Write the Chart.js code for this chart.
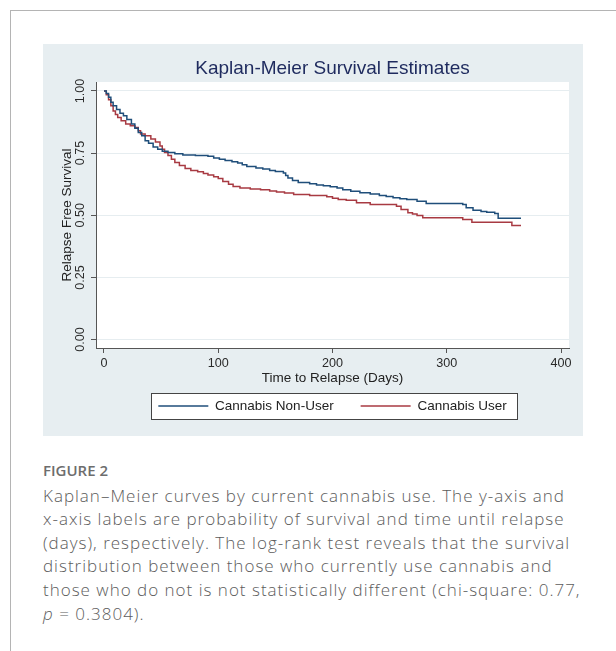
<!DOCTYPE html>
<html>
<head>
<meta charset="utf-8">
<script src="https://cdn.jsdelivr.net/npm/chart.js@4.4.0/dist/chart.umd.min.js"></script>
<style>
  html, body { margin: 0; padding: 0; background: #fff; }
  body { width: 616px; height: 651px; position: relative; overflow: hidden; }
  .frame { position: absolute; left: 10px; top: 10px; right: 0; bottom: 0; border-top: 1px solid #b4b4b4; border-left: 1px solid #b4b4b4; }
  .plot { position: absolute; left: 43px; top: 44px; width: 540px; height: 392px; background: #e7eef1; }
  .fig-label { position: absolute; left: 43px; top: 460.5px; font: 600 15px/18px "Open Sans", sans-serif; color: #6d6d6d; }
  .caption { position: absolute; left: 43px; top: 483.7px; width: 570px; font: 300 17px/23.6px "Open Sans", sans-serif; letter-spacing: 1px; color: #5c5c5c; white-space: nowrap; }
</style>
</head>
<body>
<div class="frame"></div>
<div class="plot"><canvas id="kmChart" width="540" height="392"></canvas></div>
<div class="fig-label">FIGURE 2</div>
<div class="caption">Kaplan–Meier curves by current cannabis use. The y-axis and<br>x-axis labels are probability of survival and time until relapse<br>(days), respectively. The log-rank test reveals that the survival<br>distribution between those who currently use cannabis and<br>those who do not is not statistically different (chi-square: 0.77,<br><i>p</i> = 0.3804).</div>
<script>
const xTicks = [0, 100, 200, 300, 400];
const yTicks = [0, 0.25, 0.5, 0.75, 1];

// Kaplan-Meier steps (day, survival after the drop)
const nonUserDays = [0, 2, 4, 6, 8, 11, 14, 17, 20, 24, 27, 30, 33, 36, 39, 43, 47, 51, 56, 62,
    69, 80, 91, 96, 101, 106, 112, 117, 121, 125, 133, 139, 145, 150, 157, 159, 161, 165, 170, 180,
    186, 192, 198, 204, 209, 216, 224, 233, 241, 247, 253, 259, 265, 274, 282, 314, 317, 323, 330, 335,
    342, 345, 365];
const nonUserSurv = [1.0, 0.99, 0.975, 0.955, 0.94, 0.925, 0.91, 0.9, 0.885, 0.867, 0.85, 0.833, 0.82, 0.80, 0.79, 0.775, 0.765, 0.757, 0.752, 0.747,
    0.742, 0.74, 0.737, 0.73, 0.725, 0.72, 0.715, 0.71, 0.703, 0.696, 0.69, 0.686, 0.68, 0.676, 0.67, 0.66, 0.65, 0.64, 0.632, 0.627,
    0.622, 0.619, 0.615, 0.61, 0.603, 0.597, 0.59, 0.585, 0.579, 0.575, 0.57, 0.566, 0.563, 0.556, 0.547, 0.543, 0.53, 0.52, 0.515, 0.512,
    0.507, 0.488, 0.488];

const userDays = [0, 2, 4, 6, 8, 10, 12, 15, 19, 23, 27, 30, 32, 36, 41, 45, 49, 51, 53, 56,
    59, 62, 66, 71, 76, 82, 87, 91, 96, 100, 104, 109, 113, 119, 128, 137, 145, 151, 158, 166,
    180, 195, 200, 205, 212, 221, 233, 256, 260, 266, 270, 274, 279, 314, 322, 357, 365];
const userSurv = [1.0, 0.985, 0.965, 0.94, 0.919, 0.905, 0.893, 0.88, 0.867, 0.86, 0.853, 0.84, 0.827, 0.82, 0.807, 0.795, 0.779, 0.765, 0.752, 0.74,
    0.725, 0.712, 0.70, 0.688, 0.68, 0.675, 0.668, 0.662, 0.655, 0.648, 0.636, 0.625, 0.616, 0.61, 0.606, 0.603, 0.598, 0.594, 0.589, 0.583,
    0.579, 0.574, 0.568, 0.563, 0.56, 0.55, 0.543, 0.536, 0.523, 0.51, 0.505, 0.499, 0.49, 0.483, 0.472, 0.459, 0.459];

const FONT = 'Liberation Sans, Arial, sans-serif';

function toPoints(days, surv) {
    return days.map((d, i) => ({ x: d, y: surv[i] }));
}

// White plot region and the framed legend box, drawn under everything else
const stataFrame = {
    id: 'stataFrame',
    beforeDraw(chart) {
        const { ctx, chartArea: a, legend } = chart;
        ctx.save();
        ctx.fillStyle = '#ffffff';
        ctx.fillRect(a.left, a.top, a.right - a.left, a.bottom - a.top);
        const boxes = legend && legend.legendHitBoxes;
        if (boxes && boxes.length) {
            const first = boxes[0];
            const last = boxes[boxes.length - 1];
            const cy = first.top + first.height / 2;
            const x0 = Math.round(first.left - 7) + 0.5;
            const x1 = Math.round(last.left + last.width + 10) + 0.5;
            const y0 = Math.round(cy - 13) + 0.5;
            ctx.fillRect(x0, y0, x1 - x0, 26);
            ctx.strokeStyle = '#444';
            ctx.lineWidth = 1;
            ctx.strokeRect(x0, y0, x1 - x0, 26);
        }
        ctx.restore();
    },
};

new Chart(document.getElementById('kmChart'), {
    type: 'line',
    data: {
        datasets: [
            {
                label: 'Cannabis Non-User',
                data: toPoints(nonUserDays, nonUserSurv),
                borderColor: '#1f4e7a',
                borderWidth: 1.5,
                pointRadius: 0,
                pointStyle: 'line',
                stepped: 'before',
                fill: false,
            },
            {
                label: 'Cannabis User',
                data: toPoints(userDays, userSurv),
                borderColor: '#a83a42',
                borderWidth: 1.5,
                pointRadius: 0,
                pointStyle: 'line',
                stepped: 'before',
                fill: false,
            },
        ],
    },
    options: {
        responsive: false,
        devicePixelRatio: 1,
        animation: false,
        layout: { padding: { left: 0, right: 14, top: 0, bottom: 13.25 } },
        scales: {
            x: {
                type: 'linear',
                min: -7,
                max: 407,
                afterBuildTicks: (s) => { s.ticks = xTicks.map((v) => ({ value: v })); },
                afterFit: (s) => { s.height = 24.25; },
                ticks: { color: '#2a2a2a', padding: 2.5, maxRotation: 0, font: { family: FONT, size: 12.6 } },
                grid: { drawOnChartArea: false, tickColor: '#555', tickLength: 5 },
                border: { color: '#555' },
                title: {
                    display: true,
                    text: 'Time to Relapse (Days)',
                    color: '#222',
                    font: { family: FONT, size: 13.5 },
                    padding: { top: 0, bottom: -13.85 },
                },
            },
            y: {
                type: 'linear',
                min: -0.034,
                max: 1.036,
                afterBuildTicks: (s) => { s.ticks = yTicks.map((v) => ({ value: v })); },
                afterFit: (s) => { s.width = 53; },
                ticks: {
                    callback: (v) => Number(v).toFixed(2),
                    minRotation: 90,
                    maxRotation: 90,
                    crossAlign: 'center',
                    padding: -2.26,
                    color: '#2a2a2a',
                    font: { family: FONT, size: 12.6 },
                },
                grid: { color: '#e6edf0', tickColor: '#555', tickLength: 5 },
                border: { color: '#555' },
                title: {
                    display: true,
                    text: 'Relapse Free Survival',
                    color: '#222',
                    font: { family: FONT, size: 13.5 },
                    padding: { top: 16, bottom: 0 },
                },
            },
        },
        plugins: {
            title: {
                display: true,
                text: 'Kaplan-Meier Survival Estimates',
                fullSize: false,
                color: '#1e2a5e',
                font: { family: FONT, size: 19, weight: 'normal' },
                padding: { top: 13.6, bottom: 1.6 },
            },
            legend: {
                position: 'bottom',
                fullSize: false,
                align: 'center',
                labels: {
                    usePointStyle: true,
                    pointStyle: 'line',
                    pointStyleWidth: 50,
                    padding: 27,
                    color: '#222',
                    font: { family: FONT, size: 13.5 },
                },
            },
            tooltip: { enabled: false },
        },
    },
    plugins: [stataFrame],
});
</script>
</body>
</html>
